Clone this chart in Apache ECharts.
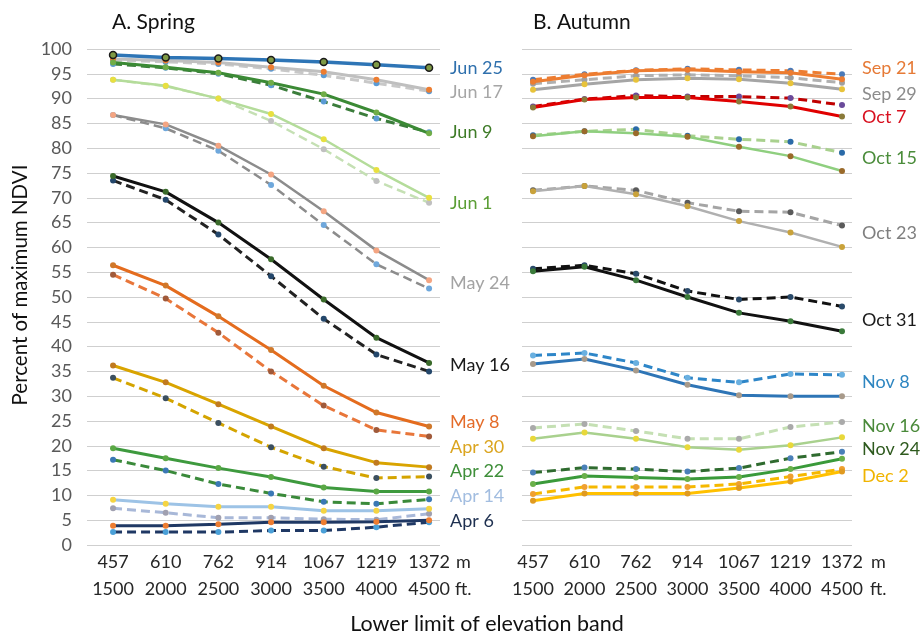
<!DOCTYPE html>
<html><head><meta charset="utf-8">
<script src="https://cdn.jsdelivr.net/npm/echarts@6/dist/echarts.min.js"></script>
<style>html,body{margin:0;padding:0;background:#fff}#c{width:921px;height:635px}</style>
</head><body><div id="c"></div>
<script>
// ---- data ----
const elevM = ['457','610','762','914','1067','1219','1372'];
const elevFt = ['1500','2000','2500','3000','3500','4000','4500'];

// Spring (solid / dashed)
const jun25  = [98.8, 98.3, 98.1, 97.8, 97.4, 96.8, 96.2];
const jun17  = [98.0, 97.7, 97.3, 96.3, 95.4, 93.8, 91.8];
const jun17d = [97.8, 97.4, 97.0, 96.0, 94.7, 93.1, 91.5];
const jun9   = [97.3, 96.3, 95.2, 93.2, 90.9, 87.2, 83.0];
const jun9d  = [97.0, 96.2, 95.0, 92.7, 89.4, 86.0, 83.2];
const jun1   = [93.8, 92.6, 90.0, 86.9, 81.8, 75.6, 70.0];
const jun1d  = [93.8, 92.5, 90.0, 85.5, 79.8, 73.4, 69.0];
const may24  = [86.7, 84.8, 80.5, 74.7, 67.3, 59.4, 53.4];
const may24d = [86.7, 84.0, 79.5, 72.6, 64.5, 56.6, 51.7];
const may16  = [74.4, 71.2, 65.0, 57.6, 49.5, 41.8, 36.7];
const may16d = [73.5, 69.6, 62.6, 54.2, 45.6, 38.4, 35.0];
const may8   = [56.4, 52.3, 46.1, 39.3, 32.1, 26.7, 23.9];
const may8d  = [54.5, 49.7, 42.8, 35.0, 28.1, 23.2, 21.9];
const apr30  = [36.2, 32.8, 28.4, 23.9, 19.5, 16.6, 15.7];
const apr30d = [33.7, 29.6, 24.6, 19.7, 15.8, 13.5, 13.8];
const apr22  = [19.5, 17.5, 15.5, 13.7, 11.6, 10.8, 10.8];
const apr22d = [17.2, 15.0, 12.3, 10.4, 8.7, 8.3, 9.2];
const apr14  = [9.1, 8.3, 7.7, 7.7, 6.9, 6.9, 7.3];
const apr14d = [7.4, 6.5, 5.5, 5.5, 5.2, 5.1, 6.3];
const apr6   = [3.9, 3.9, 4.2, 4.6, 4.6, 4.7, 5.0];
const apr6d  = [2.6, 2.6, 2.6, 2.9, 2.9, 3.6, 4.6];

// Autumn (solid / dashed)
const sep21  = [93.4, 94.7, 95.6, 95.8, 95.4, 95.2, 93.9];
const sep21d = [93.8, 94.9, 95.7, 96.0, 95.8, 95.6, 94.9];
const sep29  = [91.8, 92.9, 93.8, 94.1, 93.9, 93.1, 91.9];
const sep29d = [93.0, 93.8, 94.6, 94.8, 94.6, 94.2, 93.2];
const oct7   = [88.2, 89.8, 90.2, 90.2, 89.4, 88.4, 86.4];
const oct7d  = [88.4, 89.9, 90.6, 90.4, 90.4, 90.1, 88.7];
const oct15  = [82.4, 83.4, 83.0, 82.3, 80.3, 78.4, 75.4];
const oct15d = [82.6, 83.4, 83.8, 82.5, 81.8, 81.3, 79.1];
const oct23  = [71.3, 72.4, 70.7, 68.3, 65.3, 63.0, 60.1];
const oct23d = [71.5, 72.4, 71.5, 69.0, 67.3, 67.1, 64.4];
const oct31  = [55.2, 56.1, 53.4, 50.0, 46.8, 45.1, 43.1];
const oct31d = [55.7, 56.4, 54.7, 51.2, 49.5, 50.0, 48.1];
const nov8   = [36.5, 37.5, 35.2, 32.3, 30.2, 30.0, 30.0];
const nov8d  = [38.2, 38.7, 36.7, 33.7, 32.8, 34.5, 34.3];
const nov16  = [21.4, 22.7, 21.4, 19.7, 19.2, 20.1, 21.7];
const nov16d = [23.6, 24.4, 23.0, 21.4, 21.4, 23.8, 24.8];
const nov24  = [12.3, 13.9, 13.6, 13.3, 13.7, 15.3, 17.4];
const nov24d = [14.6, 15.6, 15.3, 14.8, 15.5, 17.5, 18.8];
const dec2   = [8.9, 10.4, 10.4, 10.4, 11.5, 12.8, 14.8];
const dec2d  = [10.3, 11.7, 11.7, 11.7, 12.3, 13.8, 15.3];

// date labels (name, value the label sits at)
const springLabels = ['Jun 25','Jun 17','Jun 9','Jun 1','May 24','May 16','May 8','Apr 30','Apr 22','Apr 14','Apr 6'];
const springLabelAt = [96.2, 91.3, 83.3, 69.0, 52.8, 36.3, 24.8, 19.8, 14.9, 9.9, 4.8];
const autumnLabels = ['Sep 21','Sep 29','Oct 7','Oct 15','Oct 23','Oct 31','Nov 8','Nov 16','Nov 24','Dec 2'];
const autumnLabelAt = [96.2, 90.9, 86.3, 78.0, 62.9, 45.4, 32.9, 24.0, 19.4, 13.9];

// ---- styles ----
const FONT = 'Lato, "Open Sans", sans-serif';
const springLabelColors = ['#2f70ad','#a6a6a6','#3e7b27','#5b9e35','#a3a3a3','#1a1a1a','#e46c2a','#dba520','#3f8f3a','#a2bde0','#1e3050'];
const autumnLabelColors = ['#e67a36','#8c8c8c','#d8101f','#4a8c3a','#7f7f7f','#1a1a1a','#2e86c1','#4a8a3a','#2e5a1e','#f0b400'];

const TOP = 49, H = 496;
function vy(v){ return TOP + (100 - v) / 100 * H; }

function line(data, axis, color, width, dashed, markColor, opts) {
  opts = opts || {};
  return {
    type: 'line', data: data, xAxisIndex: axis, yAxisIndex: axis,
    symbol: 'circle', symbolSize: opts.size || 6, showSymbol: true,
    lineStyle: { color: color, width: width, type: dashed ? [9, 5] : 'solid' },
    itemStyle: { color: markColor, borderColor: opts.border || markColor, borderWidth: opts.border ? 1.5 : 0 },
    silent: true, z: dashed ? 2 : 3
  };
}

const series = [
  // Spring
  line(jun17d, 1, '#c8c8c8', 3, true, '#5b9bd5'),
  line(jun17, 1, '#bfbfbf', 3, false, '#ed7d31'),
  line(jun9d, 1, '#3b7d3b', 3, true, '#5b9bd5'),
  line(jun9, 1, '#3b8a35', 3, false, '#70ad47'),
  line(jun25, 1, '#2e75b6', 3.5, false, '#7f9a45', {size: 7, border: '#1a1a1a'}),
  line(jun1d, 1, '#c5e0b4', 2.5, true, '#c0c0c0'),
  line(jun1, 1, '#b4dc9a', 2.5, false, '#e8e040'),
  line(may24d, 1, '#8c8c8c', 2.5, true, '#6fa8dc'),
  line(may24, 1, '#8c8c8c', 2.5, false, '#f4a582'),
  line(may16d, 1, '#222222', 3, true, '#24476b'),
  line(may16, 1, '#111111', 3, false, '#3a6a2a'),
  line(may8d, 1, '#e8763a', 3, true, '#a05a3a'),
  line(may8, 1, '#e46c1e', 3, false, '#d0782a'),
  line(apr30d, 1, '#d4a400', 3, true, '#3b4f60'),
  line(apr30, 1, '#d9a400', 3, false, '#c07a20'),
  line(apr22d, 1, '#3a8a3a', 3, true, '#3a78b5'),
  line(apr22, 1, '#3e9a3e', 3, false, '#5aa845'),
  line(apr14d, 1, '#a8b8d8', 3, true, '#a0a0b0'),
  line(apr14, 1, '#9dc3e6', 3, false, '#f5d442'),
  line(apr6d, 1, '#1f3864', 3, true, '#4aa0d8'),
  line(apr6, 1, '#1f3864', 3, false, '#ed7d31'),
  // Autumn
  line(sep21d, 3, '#ed7d31', 3, true, '#4a7ab8'),
  line(sep21, 3, '#ed7d31', 3, false, '#ed7d31'),
  line(sep29d, 3, '#b0b0b0', 3, true, '#a0a0a0'),
  line(sep29, 3, '#a5a5a5', 3, false, '#e8c33a'),
  line(oct7d, 3, '#c00000', 3, true, '#6a4a9a'),
  line(oct7, 3, '#e00000', 3, false, '#8a7a3a'),
  line(oct15d, 3, '#a9d18e', 3, true, '#2a6aa8'),
  line(oct15, 3, '#8fcf7f', 2.5, false, '#9a6a2a'),
  line(oct23d, 3, '#a5a5a5', 3, true, '#5a5a5a'),
  line(oct23, 3, '#b0b0b0', 2.5, false, '#c9a23a'),
  line(oct31d, 3, '#111111', 3, true, '#2a4a6a'),
  line(oct31, 3, '#111111', 3, false, '#3a7a3a'),
  line(nov8d, 3, '#2e86c8', 3, true, '#6ab0e0'),
  line(nov8, 3, '#2e75b6', 3, false, '#a89a8a'),
  line(nov16d, 3, '#c5e0b4', 3, true, '#aaaaaa'),
  line(nov16, 3, '#a9d18e', 2.5, false, '#e8d83a'),
  line(nov24d, 3, '#2f6b2f', 3, true, '#4a80b8'),
  line(nov24, 3, '#3a9a3a', 3, false, '#6ab04a'),
  line(dec2d, 3, '#f5b800', 3, true, '#f0a030'),
  line(dec2, 3, '#ffc000', 3, false, '#e09a20')
];

const graphics = [
  { type: 'text', left: 112, top: 12, style: { text: 'A. Spring', font: '21px ' + FONT, fill: '#111' } },
  { type: 'text', left: 533, top: 12, style: { text: 'B. Autumn', font: '21px ' + FONT, fill: '#111' } },
  { type: 'text', x: 20, y: 285, rotation: Math.PI / 2,
    style: { text: 'Percent of maximum NDVI', font: '20.5px ' + FONT, fill: '#111', align: 'center', verticalAlign: 'middle' } },
  { type: 'text', x: 487, y: 624,
    style: { text: 'Lower limit of elevation band', font: '21.5px ' + FONT, fill: '#111', align: 'center', verticalAlign: 'middle' } },
  { type: 'text', x: 456, y: 562, style: { text: 'm', font: '18px ' + FONT, fill: '#262626', verticalAlign: 'middle' } },
  { type: 'text', x: 455, y: 589, style: { text: 'ft.', font: '18px ' + FONT, fill: '#262626', verticalAlign: 'middle' } },
  { type: 'text', x: 871, y: 562, style: { text: 'm', font: '18px ' + FONT, fill: '#262626', verticalAlign: 'middle' } },
  { type: 'text', x: 870, y: 589, style: { text: 'ft.', font: '18px ' + FONT, fill: '#262626', verticalAlign: 'middle' } }
];
springLabels.forEach((t, i) => graphics.push({ type: 'text', x: 450, y: vy(springLabelAt[i]),
  style: { text: t, font: '18px ' + FONT, fill: springLabelColors[i], verticalAlign: 'middle' } }));
autumnLabels.forEach((t, i) => graphics.push({ type: 'text', x: 862, y: vy(autumnLabelAt[i]),
  style: { text: t, font: '18px ' + FONT, fill: autumnLabelColors[i], verticalAlign: 'middle' } }));

const catAxisLabel = {
  fontFamily: FONT, fontSize: 18, color: '#262626', lineHeight: 27, margin: 4,
  interval: 0, hideOverlap: false,
  formatter: function (v) { const i = elevM.indexOf(v); return elevM[i] + '\n' + elevFt[i]; }
};
const gridLine = { show: true, lineStyle: { color: '#cfcfcf', width: 1 } };

const option = {
  animation: false,
  backgroundColor: '#ffffff',
  grid: [
    { left: 87, top: TOP, width: 353, height: H },
    { left: 86.7, top: TOP, width: 368.7, height: H },
    { left: 522, top: TOP, width: 330, height: H },
    { left: 507.25, top: TOP, width: 360.5, height: H }
  ],
  xAxis: [
    { gridIndex: 0, type: 'value', show: false, min: 0, max: 1 },
    { gridIndex: 1, type: 'category', data: elevM, boundaryGap: true,
      axisLine: { show: false }, axisTick: { show: false }, splitLine: { show: false }, axisLabel: catAxisLabel },
    { gridIndex: 2, type: 'value', show: false, min: 0, max: 1 },
    { gridIndex: 3, type: 'category', data: elevM, boundaryGap: true,
      axisLine: { show: false }, axisTick: { show: false }, splitLine: { show: false }, axisLabel: catAxisLabel }
  ],
  yAxis: [
    { gridIndex: 0, type: 'value', min: 0, max: 100, interval: 5,
      axisLine: { show: false }, axisTick: { show: false }, splitLine: gridLine,
      axisLabel: { fontFamily: FONT, fontSize: 18, color: '#595959', margin: 15 } },
    { gridIndex: 1, type: 'value', min: 0, max: 100, show: false, splitLine: { show: false } },
    { gridIndex: 2, type: 'value', min: 0, max: 100, interval: 5,
      axisLine: { show: false }, axisTick: { show: false }, splitLine: gridLine, axisLabel: { show: false } },
    { gridIndex: 3, type: 'value', min: 0, max: 100, show: false, splitLine: { show: false } }
  ],
  series: series,
  graphic: graphics
};

const chart = echarts.init(document.getElementById('c'), null, { renderer: 'canvas' });
chart.setOption(option);
</script>
</body></html>
